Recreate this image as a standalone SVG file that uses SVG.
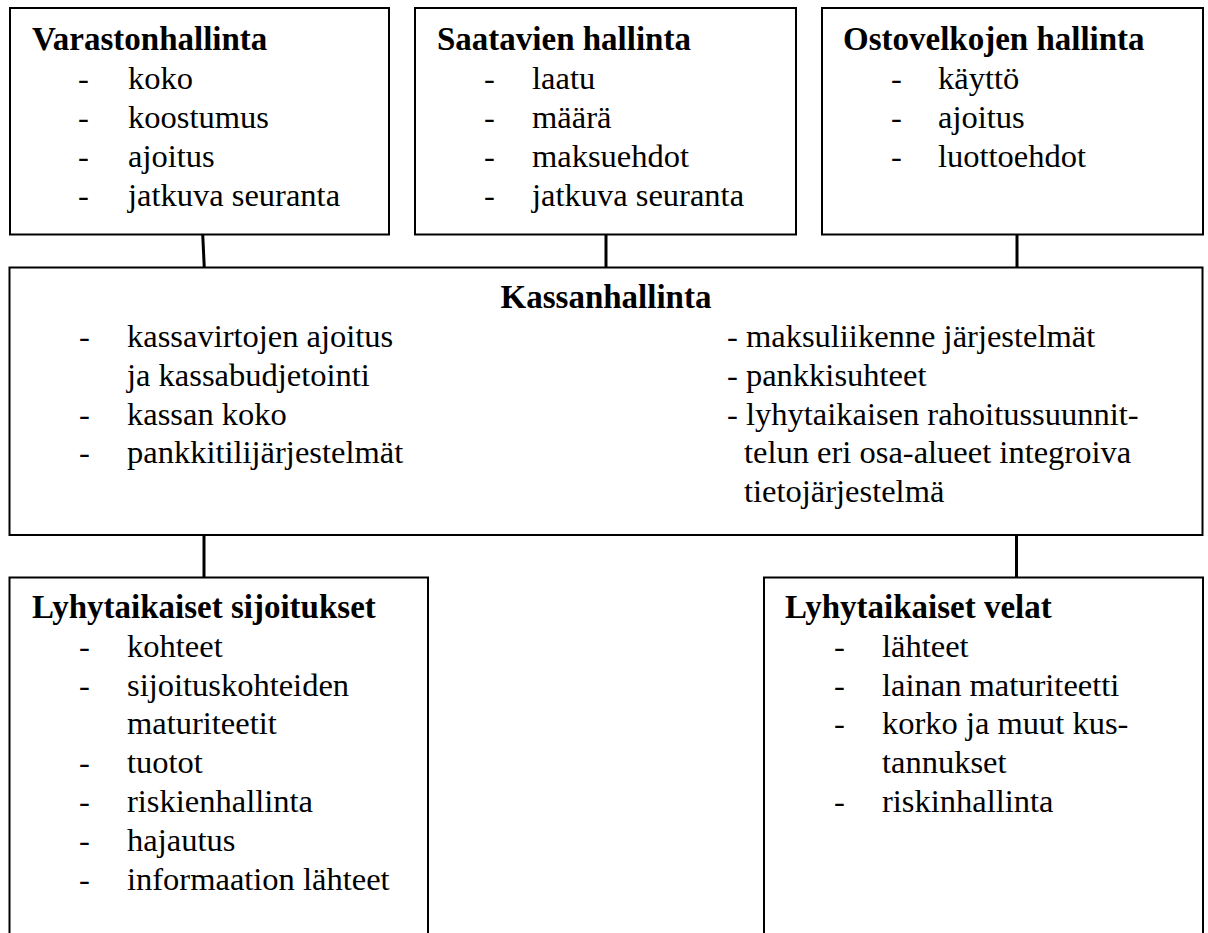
<svg xmlns="http://www.w3.org/2000/svg" width="1208" height="933" viewBox="0 0 1208 933">
<style>
.box{fill:#fff;stroke:#000;stroke-width:2}
.con{stroke:#000;stroke-width:3;fill:none}
text{font-family:"Liberation Serif","Times New Roman",serif;fill:#000}
.t{font-size:33px;font-weight:bold}
.i{font-size:32.5px}
</style>
<rect width="1208" height="933" fill="#fff"/>
<g id="connectors">
<line class="con" x1="202.7" y1="234" x2="204.3" y2="268"/>
<line class="con" x1="606" y1="234" x2="606" y2="268"/>
<line class="con" x1="1017" y1="234" x2="1017" y2="268"/>
<line class="con" x1="204" y1="534" x2="204" y2="578"/>
<line class="con" x1="1016.5" y1="534" x2="1016.5" y2="578"/>
</g>
<g id="varastonhallinta">
<rect class="box" x="10" y="8" width="379" height="226.5"/>
<text class="t" x="32" y="50">Varastonhallinta</text>
<text class="i" x="78" y="89">-</text><text class="i" x="128" y="89">koko</text>
<text class="i" x="78" y="128">-</text><text class="i" x="128" y="128">koostumus</text>
<text class="i" x="78" y="167">-</text><text class="i" x="128" y="167">ajoitus</text>
<text class="i" x="78" y="206">-</text><text class="i" x="128" y="206">jatkuva seuranta</text>
</g>
<g id="saatavien">
<rect class="box" x="415" y="8" width="381" height="226.5"/>
<text class="t" x="437" y="50">Saatavien hallinta</text>
<text class="i" x="484" y="89">-</text><text class="i" x="532" y="89">laatu</text>
<text class="i" x="484" y="128">-</text><text class="i" x="532" y="128">määrä</text>
<text class="i" x="484" y="167">-</text><text class="i" x="532" y="167">maksuehdot</text>
<text class="i" x="484" y="206">-</text><text class="i" x="532" y="206">jatkuva seuranta</text>
</g>
<g id="ostovelkojen">
<rect class="box" x="822" y="8" width="381" height="226.5"/>
<text class="t" x="843" y="50">Ostovelkojen hallinta</text>
<text class="i" x="891" y="89">-</text><text class="i" x="938" y="89">käyttö</text>
<text class="i" x="891" y="128">-</text><text class="i" x="938" y="128">ajoitus</text>
<text class="i" x="891" y="167">-</text><text class="i" x="938" y="167">luottoehdot</text>
</g>
<g id="kassanhallinta">
<rect class="box" x="9.5" y="267.5" width="1193" height="267.5"/>
<text class="t" x="606" y="308" text-anchor="middle">Kassanhallinta</text>
<text class="i" x="79" y="347">-</text><text class="i" x="127" y="347">kassavirtojen ajoitus</text>
<text class="i" x="127" y="386">ja kassabudjetointi</text>
<text class="i" x="79" y="425">-</text><text class="i" x="127" y="425">kassan koko</text>
<text class="i" x="79" y="463">-</text><text class="i" x="127" y="463">pankkitilijärjestelmät</text>
<text class="i" x="727" y="347">- maksuliikenne järjestelmät</text>
<text class="i" x="727" y="386">- pankkisuhteet</text>
<text class="i" x="727" y="425">- lyhytaikaisen rahoitussuunnit-</text>
<text class="i" x="744" y="463">telun eri osa-alueet integroiva</text>
<text class="i" x="744" y="502">tietojärjestelmä</text>
</g>
<g id="sijoitukset">
<rect class="box" x="9.5" y="577.5" width="418.5" height="370"/>
<text class="t" x="32" y="618">Lyhytaikaiset sijoitukset</text>
<text class="i" x="79" y="657">-</text><text class="i" x="127" y="657">kohteet</text>
<text class="i" x="79" y="696">-</text><text class="i" x="127" y="696">sijoituskohteiden</text>
<text class="i" x="127" y="734">maturiteetit</text>
<text class="i" x="79" y="773">-</text><text class="i" x="127" y="773">tuotot</text>
<text class="i" x="79" y="812">-</text><text class="i" x="127" y="812">riskienhallinta</text>
<text class="i" x="79" y="851">-</text><text class="i" x="127" y="851">hajautus</text>
<text class="i" x="79" y="890">-</text><text class="i" x="127" y="890">informaation lähteet</text>
</g>
<g id="velat">
<rect class="box" x="764" y="577.5" width="439" height="370"/>
<text class="t" x="785" y="618">Lyhytaikaiset velat</text>
<text class="i" x="834" y="657">-</text><text class="i" x="882" y="657">lähteet</text>
<text class="i" x="834" y="696">-</text><text class="i" x="882" y="696">lainan maturiteetti</text>
<text class="i" x="834" y="734">-</text><text class="i" x="882" y="734">korko ja muut kus-</text>
<text class="i" x="882" y="773">tannukset</text>
<text class="i" x="834" y="812">-</text><text class="i" x="882" y="812">riskinhallinta</text>
</g>
</svg>
